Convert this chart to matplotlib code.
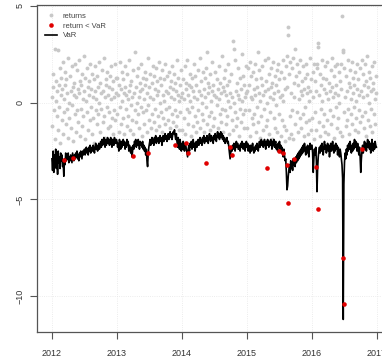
import numpy as np
import matplotlib
matplotlib.use("Agg")
import matplotlib.pyplot as plt

plt.rcParams["font.family"] = ["Liberation Sans", "DejaVu Sans"]

years = [2012, 2013, 2014, 2015, 2016]

# returns, every other trading day (%)
ret_2012 = [0.3, -1.2, 1.5, 0.8, -0.4, 2.8, -1.9, 0.1, 1.1, -0.7, 0.6, 2.7, -1.4, 0.9,
            -0.2, 1.8, -2.1, 0.4, 1.3, -0.9, 0.7, 2.1, -1.6, 0.2, -0.5, 1.6, 0.9, -1.1,
            1.2, -0.3, 0.5, -1.8, 2.3, 0.0, -0.8, 1.4, 0.6, -1.3, 1.9, -0.1, 0.8, -2.0,
            0.4, 1.0, -0.6, 2.0, -1.5, 0.3, 1.7, -0.4, 0.7, -1.0, 2.2, 0.5, -1.7, 1.1,
            -0.3, 0.9, 1.5, -1.2, 0.2, -0.7, 2.4, 0.6, -1.9, 1.3, 0.1, -0.5, 1.8, 0.8,
            -1.4, 0.4, 1.1, -0.9, 2.0, -0.2, 0.7, -1.6, 1.5, 0.3, -0.8, 1.2, -2.1, 0.6,
            1.9, -0.4, 0.2, 1.4, -1.1, 0.8, -0.6, 2.1, 0.0, -1.5, 1.0, 0.5, -0.3, 1.7,
            -1.0, 0.6, 2.3, -0.7, 0.3, -1.8, 1.2, 0.9, -0.2, 1.6, -1.3, 0.4, 0.8, -0.5,
            1.4, -1.2, 0.2, 1.9, -0.8, 0.7, -1.6, 1.1, 0.3, -0.4, 2.0, -0.9, 0.5, 1.3]
ret_2013 = [-0.6, 1.3, 0.4, -1.5, 0.9, 2.1, -0.2, 0.7, -1.1, 1.6, 0.1, -0.8, 1.2, 0.5,
            -1.6, 0.8, 1.9, -0.3, 0.4, -1.2, 1.5, 0.2, -0.7, 2.2, 0.6, -1.4, 0.9, -0.1,
            1.1, -0.9, 0.3, 1.7, -1.6, 0.5, 2.6, -0.4, 0.8, -1.0, 1.4, 0.0, -0.6, 1.8,
            0.3, -1.3, 1.0, 0.6, -0.2, 2.0, -1.7, 0.7, 1.3, -0.5, 0.2, -1.1, 1.6, 0.9,
            -0.4, 1.2, -1.5, 0.5, 2.3, -0.1, 0.8, -0.9, 1.5, 0.3, -1.3, 1.0, -0.6, 1.9,
            0.2, -1.0, 1.4, 0.7, -0.3, 1.8, -1.4, 0.4, 1.1, -0.7, 0.6, 2.1, -1.2, 0.0,
            1.3, -0.5, 0.9, -1.5, 1.7, 0.4, -0.8, 1.2, 0.1, -1.1, 2.0, 0.6, -0.3, 1.4,
            -0.9, 0.5, 1.6, -0.2, 0.8, -1.3, 1.1, 0.3, -0.6, 1.9, -1.0, 0.7, 0.2, 1.5,
            -0.4, 1.0, -1.2, 0.6, 2.2, -0.7, 0.4, 1.3, -1.4, 0.1, 0.9, -0.5, 1.7, 0.3]
ret_2014 = [0.5, -1.4, 1.2, 0.2, -0.8, 1.9, -1.6, 0.7, 1.0, -0.3, 2.2, 0.4, -1.1, 0.9,
            -0.5, 1.5, 0.1, -1.7, 0.8, 1.3, -0.2, 0.6, -1.2, 2.0, 0.3, -0.7, 1.4, -1.5,
            0.9, 0.2, -1.0, 1.7, -0.4, 0.6, 2.3, -1.3, 0.4, 1.1, -0.6, 0.0, 1.6, -0.9,
            0.7, -1.5, 1.3, 0.3, -0.2, 1.8, 2.6, -1.1, 0.5, 1.0, -0.7, 0.8, -1.4, 1.5,
            0.1, -0.5, 2.1, 0.6, -1.2, 0.9, 0.4, -0.8, 1.6, -1.6, 0.3, 1.2, -0.1, 0.7,
            -1.3, 1.9, 0.2, -0.6, 1.0, -1.0, 0.5, 2.4, -0.3, 0.8, -1.5, 1.3, 0.6, -0.4,
            1.7, -1.1, 0.4, 0.9, -0.7, 2.0, 0.1, -1.6, 1.1, 0.5, -0.2, 1.5, -0.9, 0.3,
            3.2, -1.4, 2.8, 0.0, -0.5, 2.2, -1.2, 0.6, 1.0, -0.8, 0.4, 1.8, -1.7, 0.2,
            -0.3, 1.3, 0.7, -1.0, 2.5, 0.1, -0.6, 1.4, -1.3, 0.9, 0.3, -0.4, 1.9, 0.5]
ret_2015 = [0.6, -1.3, 1.8, -0.4, 0.9, 2.1, -1.7, 0.3, 1.4, -0.8, 0.2, 1.6, -1.1, 0.7,
            -0.6, 2.0, 0.4, -1.5, 1.2, -0.2, 0.8, 2.6, -1.0, 0.5, 1.7, -1.8, 0.1, 1.3,
            -0.7, 0.9, 1.9, -1.4, 0.4, -0.3, 2.2, 0.6, -1.2, 1.1, 0.0, -0.9, 2.3, 0.7,
            -1.6, 1.5, 0.3, -0.5, 1.8, 0.8, -1.9, 1.0, 0.2, 2.1, -0.8, 0.5, 1.4, -1.3,
            0.9, -0.1, 1.7, -1.5, 0.6, 2.0, -0.6, 1.2, 0.3, -1.7, 1.6, 0.4, -0.9, 2.2,
            0.1, -1.2, 1.3, 0.7, -2.0, 1.9, -1.4, 0.8, 2.4, 3.9, 3.5, -1.8, 1.5, -0.7,
            2.1, 0.5, -1.6, 1.8, -0.4, 2.3, -1.9, 1.0, 0.3, 2.8, -1.1, 1.4, 2.0, -0.5,
            0.9, -1.5, 1.6, 0.2, -0.8, 2.2, 0.6, -1.3, 1.1, 0.4, -0.6, 1.9, -1.7, 0.7,
            1.3, -0.2, 2.0, -1.0, 0.5, 1.5, -1.6, 0.8, 0.1, -0.9, 2.3, 0.6, -1.4, 1.2]
ret_2016 = [-0.8, 1.6, 0.3, -1.9, 2.0, -0.5, 1.1, 0.6, -1.4, 1.8, 2.0, 3.1, 2.9, -1.0,
            0.4, 1.5, -1.7, 0.9, -0.3, 2.2, 0.1, -1.2, 1.3, 0.7, -0.6, 1.9, -1.5, 0.5,
            1.2, -0.9, 2.1, 0.2, -1.6, 1.0, 0.6, -0.4, 1.7, -1.1, 0.8, 2.3, -0.7, 0.3,
            1.4, -1.8, 0.5, 1.9, -0.2, 0.9, -1.3, 2.0, 0.4, -0.8, 1.6, 0.0, -1.5, 1.1,
            0.7, 2.0, 4.5, -1.7, 2.7, 2.6, -0.5, 1.8, 0.3, -1.2, 1.4, 0.6, -0.9, 2.2,
            -0.3, 1.0, -1.6, 0.8, 1.7, -0.6, 0.2, 2.1, -1.1, 0.5, 1.3, -0.2, 0.9, -1.4,
            1.6, 0.1, -0.8, 2.0, 0.7, -1.5, 1.2, 0.4, -0.4, 1.8, -1.0, 0.6, 2.2, -0.7,
            0.3, 1.5, -1.3, 0.9, 2.0, -0.5, 1.1, -1.7, 0.4, 2.4, 0.8, -0.9, 1.6, 0.0,
            -1.2, 1.3, 0.6, -0.3, 1.9, -1.5, 0.7, 1.0, -0.6, 2.1, 0.2, -1.1, 1.4, 0.5]

# VaR, twice a week
var_2012 = [-2.9, -3.5, -2.5, -3.6, -2.7, -3.3, -2.4, -3.4, -2.6, -3.7, -2.5, -3.1, -2.8,
            -3.4, -2.6, -3.0, -2.7, -3.3, -3.1, -3.8, -2.9, -3.2, -2.6, -3.0, -2.7, -2.9,
            -2.6, -3.1, -2.8, -3.0, -2.7, -2.9, -3.1, -2.6, -2.8, -3.0, -2.7, -2.9, -2.6,
            -2.8, -2.5, -2.9, -2.7, -3.0, -2.6, -2.8, -2.5, -2.7, -2.9, -2.5, -2.7, -2.6,
            -2.4, -2.7, -2.5, -2.3, -2.6, -2.4, -2.7, -2.3, -2.5, -2.2, -2.6, -2.4, -2.3,
            -2.5, -2.2, -2.4, -2.6, -2.3, -2.1, -2.4, -2.2, -2.5, -2.3, -2.1, -2.4, -2.2,
            -2.0, -2.3, -1.9, -2.2, -2.0, -1.8, -2.1, -2.3, -1.9, -2.2, -2.0, -1.8, -2.1,
            -1.9, -2.2, -2.0, -1.8, -2.1, -2.3, -1.9, -2.0, -2.2, -1.8, -2.0, -2.1, -1.9]
var_2013 = [-2.0, -2.3, -2.1, -2.5, -1.9, -2.2, -2.4, -2.0, -2.3, -2.1, -1.9, -2.2, -2.0,
            -2.4, -2.1, -2.3, -1.9, -2.2, -2.0, -2.5, -2.2, -2.4, -2.6, -2.3, -2.8, -2.5,
            -2.2, -2.4, -2.0, -2.1, -1.9, -2.3, -2.0, -2.2, -1.9, -2.1, -2.4, -2.0, -2.2,
            -2.1, -2.3, -2.0, -2.4, -2.2, -2.5, -2.3, -2.7, -2.4, -3.0, -3.3, -2.6, -2.3,
            -2.1, -1.9, -2.2, -2.0, -1.8, -2.1, -1.9, -2.2, -1.8, -2.0, -1.7, -2.1, -1.9,
            -2.0, -1.8, -2.1, -1.9, -1.7, -2.0, -1.8, -2.2, -1.9, -1.7, -2.0, -1.8, -1.6,
            -1.9, -1.7, -2.0, -1.8, -1.6, -1.9, -1.7, -1.5, -1.8, -1.6, -1.9, -1.7, -1.5,
            -1.6, -1.4, -1.7, -1.9, -1.6, -2.0, -2.3, -1.8, -2.1, -2.4, -1.9, -2.2, -2.5]
var_2014 = [-2.1, -2.4, -2.0, -2.3, -2.5, -2.1, -2.2, -2.4, -2.6, -2.8, -2.4, -2.2, -2.5,
            -2.1, -2.3, -2.0, -2.4, -2.2, -1.9, -2.3, -2.1, -2.5, -2.2, -2.0, -2.3, -2.1,
            -1.9, -2.2, -2.0, -1.8, -2.1, -1.9, -2.2, -1.8, -2.0, -1.7, -2.1, -1.9, -1.8,
            -2.0, -1.7, -1.9, -2.1, -1.8, -1.6, -1.9, -2.0, -1.7, -1.9, -1.8, -2.1, -1.7,
            -1.9, -1.6, -1.8, -2.0, -1.7, -1.5, -1.8, -1.6, -1.9, -1.7, -1.5, -1.8, -1.6,
            -1.9, -1.7, -2.0, -1.8, -2.1, -1.9, -2.0, -1.8, -2.1, -2.0, -2.3, -2.6, -2.9,
            -2.6, -2.3, -2.5, -2.2, -2.4, -2.1, -2.3, -2.5, -2.2, -2.0, -2.3, -2.1, -2.4,
            -2.4, -2.2, -2.5, -2.1, -2.3, -2.0, -2.2, -2.4, -2.1, -2.3, -2.5, -2.2, -2.0]
var_2015 = [-2.3, -2.1, -2.5, -2.2, -2.4, -2.6, -2.2, -2.5, -2.3, -2.1, -2.4, -2.6, -2.3,
            -2.5, -2.2, -2.4, -2.1, -2.3, -2.5, -2.2, -2.0, -2.3, -2.1, -1.9, -2.2, -2.0,
            -2.3, -2.1, -1.9, -2.2, -2.4, -2.0, -2.2, -1.9, -2.1, -2.3, -2.0, -2.2, -1.9,
            -2.1, -2.4, -2.0, -2.2, -1.9, -2.3, -2.1, -2.0, -2.4, -2.2, -2.5, -2.1, -2.3,
            -2.0, -2.4, -2.2, -2.6, -2.3, -2.5, -2.8, -2.4, -2.7, -3.0, -2.9, -3.6, -4.5,
            -4.3, -3.8, -3.5, -3.2, -3.6, -3.0, -3.4, -3.1, -3.5, -2.9, -3.2, -3.0, -3.3,
            -2.8, -3.1, -2.7, -3.0, -2.6, -2.9, -2.5, -2.8, -2.4, -2.7, -2.3, -2.6, -2.2,
            -2.5, -2.1, -2.4, -2.7, -2.3, -2.6, -2.2, -2.5, -2.8, -2.3, -2.1, -2.4, -2.2]
var_2016 = [-2.2, -2.6, -3.6, -2.9, -2.4, -2.7, -2.3, -3.0, -4.6, -3.4, -2.8, -2.5, -2.3,
            -2.6, -2.2, -2.5, -2.1, -2.4, -2.7, -2.3, -2.0, -2.4, -2.2, -2.6, -2.3, -2.1,
            -2.5, -2.2, -2.8, -2.4, -2.1, -2.5, -2.3, -2.0, -2.4, -2.6, -2.2, -2.5, -2.1,
            -2.4, -2.2, -2.7, -2.3, -2.5, -2.8, -2.4, -2.6, -2.9, -3.2, -3.9, -11.2, -4.2,
            -3.1, -2.6, -2.9, -2.4, -2.7, -2.2, -2.5, -2.1, -2.4, -2.0, -2.3, -2.6, -2.2,
            -2.5, -2.1, -2.4, -1.9, -2.3, -2.0, -2.2, -2.5, -2.1, -2.4, -2.7, -2.3, -2.8,
            -3.6, -2.9, -2.5, -2.2, -2.6, -2.3, -2.0, -2.4, -2.1, -2.5, -2.2, -1.9, -2.3,
            -2.0, -2.4, -2.1, -2.6, -2.2, -1.9, -2.3, -2.5, -2.1, -2.4, -2.0, -2.2, -2.3]

# returns below VaR
breach_dates = [2012.18, 2012.32, 2013.24, 2013.47, 2013.90, 2014.06, 2014.09, 2014.37,
                2014.74, 2014.77, 2015.31, 2015.49, 2015.55, 2015.61, 2015.63, 2015.72,
                2016.06, 2016.09, 2016.48, 2016.49, 2016.77]
breach_vals = [-2.95, -2.85, -2.75, -2.6, -2.2, -2.1, -2.6, -3.1,
               -2.3, -2.7, -3.35, -2.5, -2.6, -3.2, -5.2, -2.9,
               -3.3, -5.5, -8.0, -10.4, -2.4]

ret_by_year = [ret_2012, ret_2013, ret_2014, ret_2015, ret_2016]
var_by_year = [var_2012, var_2013, var_2014, var_2015, var_2016]

t_ret = np.concatenate([y + np.arange(len(r)) / len(r) for y, r in zip(years, ret_by_year)])
t_var = np.concatenate([y + np.arange(len(v)) / len(v) for y, v in zip(years, var_by_year)])
returns = np.concatenate(ret_by_year)
var = np.concatenate(var_by_year)

fig = plt.figure(figsize=(3.82, 3.63), dpi=100)
ax = fig.add_axes([37 / 382, 31 / 363, 353 / 382, 327 / 363])

ax.plot(t_ret, returns, "o", color="#c8c8c8", ms=2.8, mew=0, label="returns")
ax.plot(t_var, var, color="black", lw=1.2, label="VaR")
ax.plot(breach_dates, breach_vals, "o", color="#e00000", ms=3.3, mew=0, label="return < VaR")

ax.set_xlim(2011.77, 2017.2)
ax.set_ylim(-11.85, 5.05)
ax.set_xticks(range(2012, 2018))
ax.set_yticks([-10, -5, 0, 5])
ax.grid(True, color="#e6e6e6", lw=0.6, ls=":")
ax.set_axisbelow(True)

for s in ax.spines.values():
    s.set_color("#555555")
    s.set_linewidth(0.9)
ax.tick_params(direction="out", length=5, width=0.8, color="#555555",
               labelsize=6.5, labelcolor="#333333")
ax.tick_params(axis="x", pad=7)
ax.tick_params(axis="y", pad=4)
for lab in ax.get_yticklabels():
    lab.set_rotation(90)
    lab.set_va("center")

h, l = ax.get_legend_handles_labels()
order = [0, 2, 1]
ax.legend([h[i] for i in order], [l[i] for i in order], loc="upper left",
          frameon=False, fontsize=5.5, handlelength=1.6, labelspacing=0.3,
          borderaxespad=0.6, handletextpad=0.8, labelcolor="#444444")

fig.savefig("out.png", dpi=100)
